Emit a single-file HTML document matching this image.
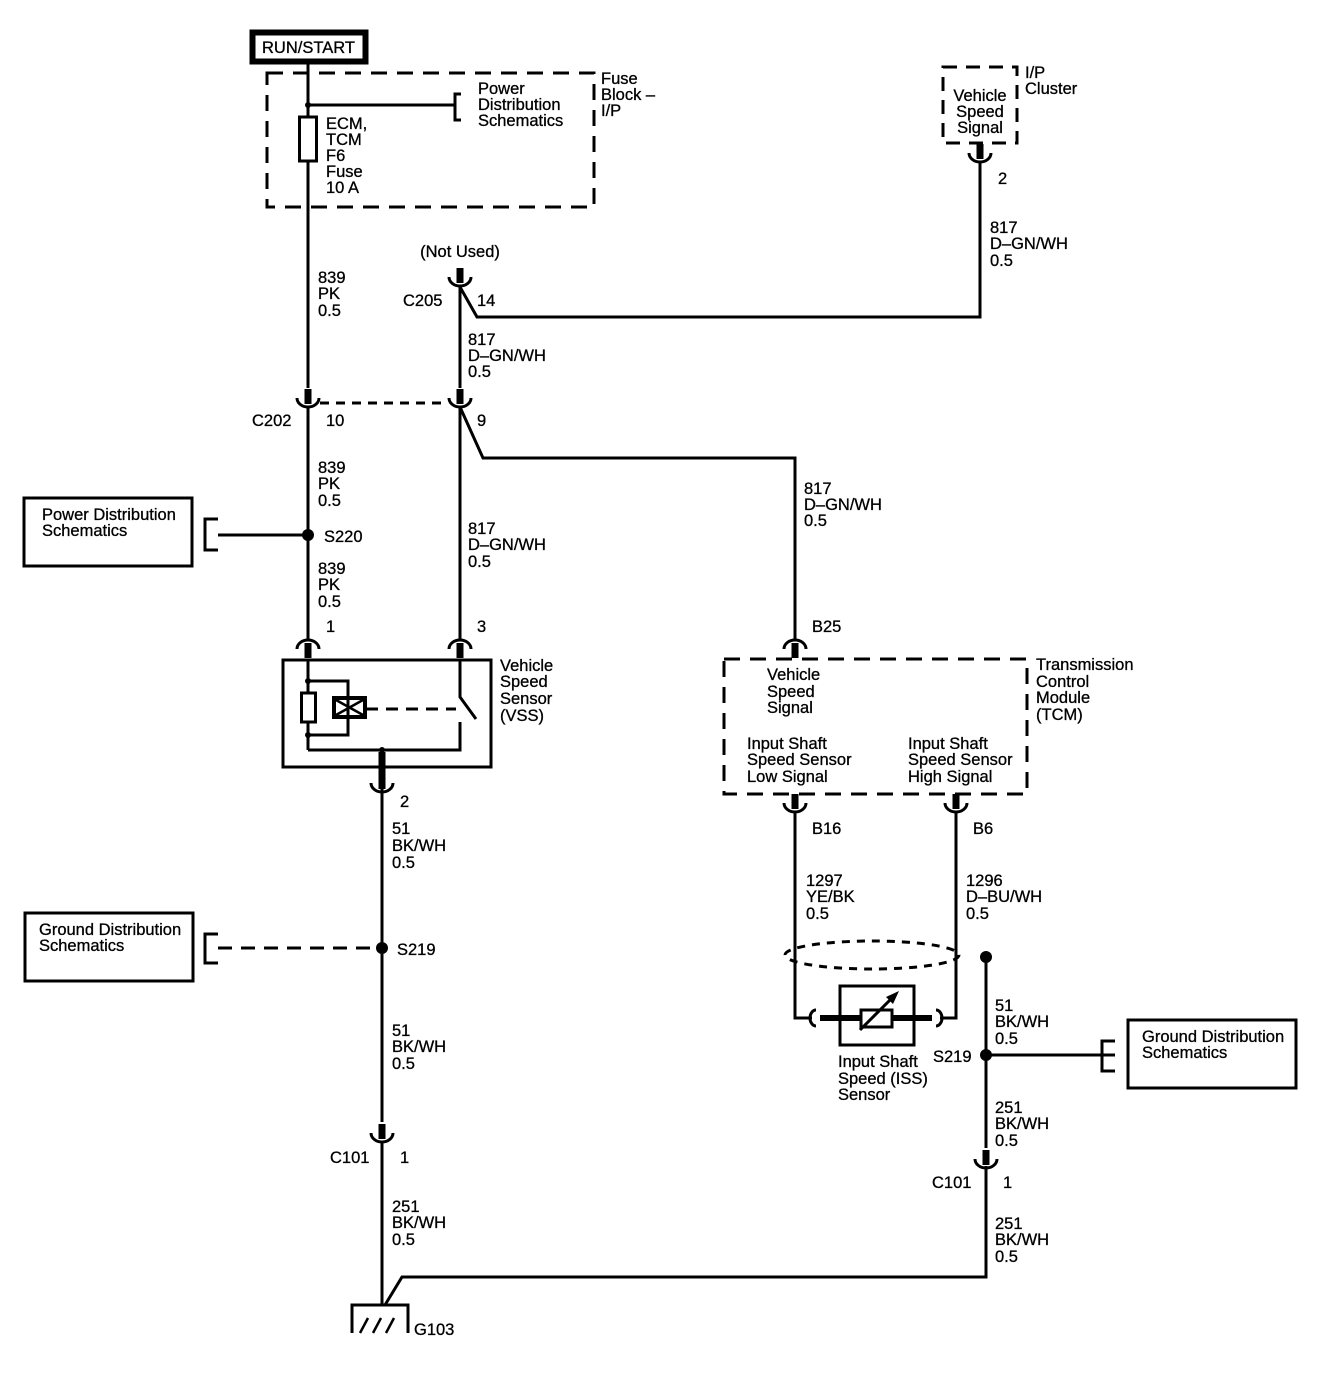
<!DOCTYPE html>
<html><head><meta charset="utf-8"><style>
html,body{margin:0;padding:0;background:#fff;}
svg{display:block;}
text{font-family:"Liberation Sans",Arial,sans-serif;font-size:16.5px;fill:#000;stroke:#000;stroke-width:0.3;}
</style></head><body>
<svg width="1318" height="1376" viewBox="0 0 1318 1376" xmlns="http://www.w3.org/2000/svg">
<defs>
<g id="cd"><rect x="-3.5" y="-16" width="7" height="15" fill="#000"/><path d="M-11,-7 A11 9 0 0 0 11,-7" fill="none" stroke="#000" stroke-width="3"/></g>
<g id="cu"><rect x="-3.5" y="1" width="7" height="15" fill="#000"/><path d="M-11,7 A11 9 0 0 1 11,7" fill="none" stroke="#000" stroke-width="3"/></g>
</defs>
<g stroke="#000" stroke-width="3" fill="none">
<rect x="252.5" y="32.5" width="113" height="29" stroke-width="6"/>
<rect x="267" y="73" width="327" height="134" stroke-dasharray="16,10"/>
<line x1="308" y1="62" x2="308" y2="388"/>
<line x1="308" y1="105" x2="455" y2="105"/>
<path d="M461,94 H455 V120 H461"/>
<rect x="299.5" y="117" width="17" height="44" fill="#fff"/>
<rect x="943" y="67" width="74" height="76" stroke-dasharray="14,9"/>
<path d="M980,162 V317 H477 L460,287"/>
<line x1="460" y1="285" x2="460" y2="388"/>
<line x1="320" y1="403" x2="448" y2="403" stroke-dasharray="9,7"/>
<path d="M460,407 L483,458 H795 V640"/>
<line x1="308" y1="407" x2="308" y2="640"/>
<line x1="460" y1="407" x2="460" y2="640"/>
<line x1="218" y1="535" x2="308" y2="535"/>
<path d="M218,519 H205 V550 H218"/>
<rect x="24" y="498" width="168" height="68"/>
<rect x="283" y="660" width="208" height="107"/>
<line x1="308" y1="660" x2="308" y2="750"/>
<path d="M308,681 H348 V735 H308"/>
<path d="M308,750 H460 V722"/>
<path d="M460,660 V697 L476,719"/>
<rect x="301.5" y="693" width="14" height="29" fill="#fff"/>
<rect x="334" y="698" width="31" height="19" stroke-width="4"/>
<path d="M336,700 L363,715 M336,715 L363,700" stroke-width="2.5"/>
<line x1="366" y1="709" x2="456" y2="709" stroke-dasharray="12,8"/>
<line x1="382" y1="789" x2="382" y2="1122"/>
<line x1="218" y1="948" x2="382" y2="948" stroke-dasharray="14,9"/>
<path d="M218,934 H205 V963 H218"/>
<rect x="25" y="913" width="168" height="68"/>
<line x1="382" y1="1141" x2="382" y2="1305"/>
<path d="M352,1333 V1305 H408 V1333"/>
<path d="M360,1333 L368,1318 M373,1333 L381,1318 M386,1333 L394,1318" stroke-width="2.5"/>
<path d="M986,1166 V1277 H402 L385,1305"/>
<rect x="724" y="659" width="303" height="135" stroke-dasharray="16,10"/>
<path d="M795,812 V1018 H812"/>
<path d="M956,812 V1018 H940"/>
<path d="M816,1010 A6 8 0 0 0 816,1026" stroke-width="3"/>
<path d="M936,1010 A6 8 0 0 1 936,1026" stroke-width="3"/>
<ellipse cx="872" cy="955" rx="87" ry="14" stroke-dasharray="8,7"/>
<rect x="840" y="986" width="74" height="59"/>
<line x1="820" y1="1018" x2="932" y2="1018" stroke-width="6"/>
<rect x="861" y="1010" width="31" height="17" fill="#fff"/>
<line x1="860" y1="1030" x2="893" y2="997"/>
<line x1="986" y1="957" x2="986" y2="1148"/>
<line x1="986" y1="1055" x2="1115" y2="1055"/>
<path d="M1115,1041 H1102 V1071 H1115"/>
<rect x="1128" y="1020" width="168" height="68"/>
</g>
<polygon points="899,991 886,997 893,1004" fill="#000"/>
<g fill="#000">
<circle cx="308" cy="105" r="3"/>
<circle cx="308" cy="535" r="6"/>
<circle cx="308" cy="681" r="3"/>
<circle cx="308" cy="735" r="3"/>
<circle cx="382" cy="750" r="3"/>
<circle cx="382" cy="948" r="6"/>
<circle cx="986" cy="957" r="6"/>
<circle cx="986" cy="1055" r="6"/>
<rect x="378.5" y="752" width="7" height="27"/>
</g>
<use href="#cd" x="980" y="160"/>
<use href="#cd" x="460" y="284"/>
<use href="#cd" x="308" y="405"/>
<use href="#cd" x="460" y="405"/>
<use href="#cu" x="308" y="642"/>
<use href="#cu" x="460" y="642"/>
<use href="#cu" x="795" y="642"/>
<use href="#cd" x="382" y="790"/>
<use href="#cd" x="795" y="810"/>
<use href="#cd" x="956" y="810"/>
<use href="#cd" x="382" y="1140"/>
<use href="#cd" x="986" y="1166"/>
<text x="262" y="53">RUN/START</text>
<text x="326" y="129">ECM,</text><text x="326" y="145">TCM</text><text x="326" y="161">F6</text><text x="326" y="177">Fuse</text><text x="326" y="193">10 A</text>
<text x="478" y="94">Power</text><text x="478" y="110">Distribution</text><text x="478" y="126">Schematics</text>
<text x="601" y="84">Fuse</text><text x="601" y="100">Block –</text><text x="601" y="116">I/P</text>
<text x="980" y="101" text-anchor="middle">Vehicle</text><text x="980" y="117" text-anchor="middle">Speed</text><text x="980" y="133" text-anchor="middle">Signal</text>
<text x="1025" y="78">I/P</text><text x="1025" y="94">Cluster</text>
<text x="998" y="184">2</text>
<text x="990" y="233">817</text><text x="990" y="249">D–GN/WH</text><text x="990" y="266">0.5</text>
<text x="460" y="257" text-anchor="middle">(Not Used)</text>
<text x="403" y="306">C205</text><text x="477" y="306">14</text>
<text x="318" y="283">839</text><text x="318" y="299">PK</text><text x="318" y="316">0.5</text>
<text x="468" y="345">817</text><text x="468" y="361">D–GN/WH</text><text x="468" y="377">0.5</text>
<text x="252" y="426">C202</text><text x="326" y="426">10</text><text x="477" y="426">9</text>
<text x="804" y="494">817</text><text x="804" y="510">D–GN/WH</text><text x="804" y="526">0.5</text>
<text x="318" y="473">839</text><text x="318" y="489">PK</text><text x="318" y="506">0.5</text>
<text x="324" y="542">S220</text>
<text x="42" y="520">Power Distribution</text><text x="42" y="536">Schematics</text>
<text x="318" y="574">839</text><text x="318" y="590">PK</text><text x="318" y="607">0.5</text>
<text x="468" y="534">817</text><text x="468" y="550">D–GN/WH</text><text x="468" y="567">0.5</text>
<text x="326" y="632">1</text><text x="477" y="632">3</text><text x="812" y="632">B25</text>
<text x="500" y="671">Vehicle</text><text x="500" y="687">Speed</text><text x="500" y="704">Sensor</text><text x="500" y="721">(VSS)</text>
<text x="400" y="807">2</text>
<text x="392" y="834">51</text><text x="392" y="851">BK/WH</text><text x="392" y="868">0.5</text>
<text x="39" y="935">Ground Distribution</text><text x="39" y="951">Schematics</text>
<text x="397" y="955">S219</text>
<text x="392" y="1036">51</text><text x="392" y="1052">BK/WH</text><text x="392" y="1069">0.5</text>
<text x="330" y="1163">C101</text><text x="400" y="1163">1</text>
<text x="392" y="1212">251</text><text x="392" y="1228">BK/WH</text><text x="392" y="1245">0.5</text>
<text x="414" y="1335">G103</text>
<text x="767" y="680">Vehicle</text><text x="767" y="697">Speed</text><text x="767" y="713">Signal</text>
<text x="747" y="749">Input Shaft</text><text x="747" y="765">Speed Sensor</text><text x="747" y="782">Low Signal</text>
<text x="908" y="749">Input Shaft</text><text x="908" y="765">Speed Sensor</text><text x="908" y="782">High Signal</text>
<text x="1036" y="670">Transmission</text><text x="1036" y="687">Control</text><text x="1036" y="703">Module</text><text x="1036" y="720">(TCM)</text>
<text x="812" y="834">B16</text><text x="973" y="834">B6</text>
<text x="806" y="886">1297</text><text x="806" y="902">YE/BK</text><text x="806" y="919">0.5</text>
<text x="966" y="886">1296</text><text x="966" y="902">D–BU/WH</text><text x="966" y="919">0.5</text>
<text x="838" y="1067">Input Shaft</text><text x="838" y="1084">Speed (ISS)</text><text x="838" y="1100">Sensor</text>
<text x="995" y="1011">51</text><text x="995" y="1027">BK/WH</text><text x="995" y="1044">0.5</text>
<text x="933" y="1062">S219</text>
<text x="1142" y="1042">Ground Distribution</text><text x="1142" y="1058">Schematics</text>
<text x="995" y="1113">251</text><text x="995" y="1129">BK/WH</text><text x="995" y="1146">0.5</text>
<text x="932" y="1188">C101</text><text x="1003" y="1188">1</text>
<text x="995" y="1229">251</text><text x="995" y="1245">BK/WH</text><text x="995" y="1262">0.5</text>
</svg>
</body></html>
